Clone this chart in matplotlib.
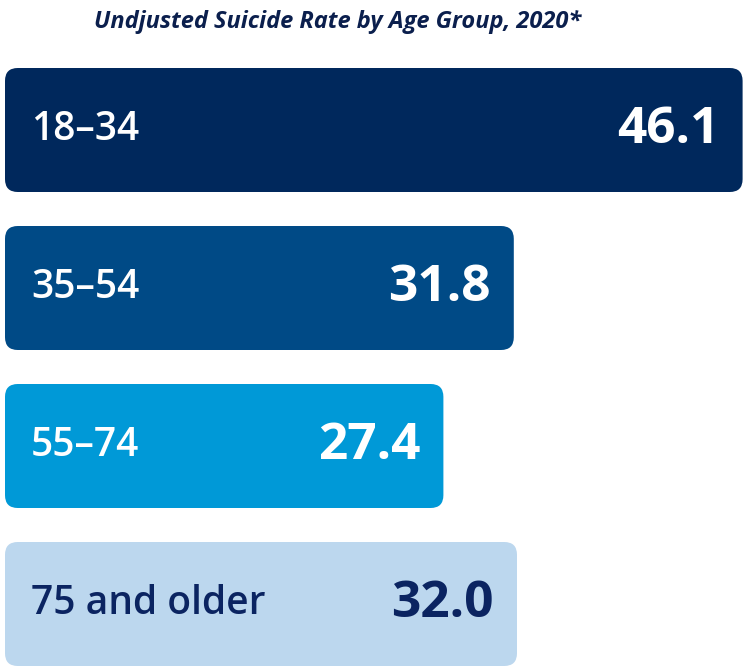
import matplotlib
matplotlib.use('Agg')
import matplotlib.pyplot as plt
from matplotlib.patches import FancyBboxPatch

# data
groups = ['18\u201334', '35\u201354', '55\u201374', '75 and older']
rates = [46.1, 31.8, 27.4, 32.0]
colors = ['#00285c', '#004a86', '#0099d7', '#bcd7ee']
text_colors = ['white', 'white', 'white', '#0b2461']
title = 'Undjusted Suicide Rate by Age Group, 2020*'

W, H, DPI = 744, 667, 100
fig = plt.figure(figsize=(W / DPI, H / DPI), dpi=DPI)
ax = fig.add_axes([0, 0, 1, 1])

px_x = 16.0    # pixels per rate unit
px_y = 158.0   # pixels per bar slot
x0 = 5         # pixel of zero
ax.set_xlim(-x0 / px_x, (W - x0) / px_x)
ax.set_ylim((H - 130) / px_y, -130 / px_y)
ax.axis('off')

bar_h = 124 / px_y
aspect = px_x / px_y
font = ['Open Sans', 'DejaVu Sans']

for i, (g, r) in enumerate(zip(groups, rates)):
    box = FancyBboxPatch((0, i - bar_h / 2), r, bar_h,
                         boxstyle='round,pad=0,rounding_size=0.8',
                         mutation_aspect=aspect,
                         facecolor=colors[i], edgecolor='none')
    ax.add_patch(box)
    ax.text(26 / px_x, i, g, ha='left', va='center', fontsize=28,
            fontstretch='condensed', fontweight='semibold',
            color=text_colors[i], family=font)
    ax.text(r - 23 / px_x, i, f'{r:.1f}', ha='right', va='center',
            fontsize=37, fontweight='bold', color=text_colors[i], family=font)

fig.text(338 / W, 1 - 22 / H, title, ha='center', va='center', fontsize=17,
         fontweight='bold', style='italic', fontstretch='condensed',
         color='#0b1f4d', family=font)

fig.savefig('out.png', dpi=DPI)
